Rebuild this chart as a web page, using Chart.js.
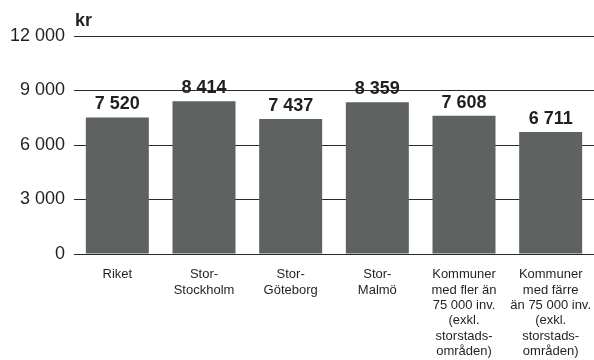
<!DOCTYPE html>
<html>
<head>
<meta charset="utf-8">
<script src="https://cdn.jsdelivr.net/npm/chart.js@4/dist/chart.umd.min.js"></script>
<style>
  html, body { margin: 0; padding: 0; background: #ffffff; }
  #wrap { width: 594px; height: 360px; position: relative; }
</style>
</head>
<body>
<div id="wrap"><canvas id="c"></canvas></div>
<script>
const categories = [
  ['Riket'],
  ['Stor-', 'Stockholm'],
  ['Stor-', 'Göteborg'],
  ['Stor-', 'Malmö'],
  ['Kommuner', 'med fler än', '75 000 inv.', '(exkl.', 'storstads-', 'områden)'],
  ['Kommuner', 'med färre', 'än 75 000 inv.', '(exkl.', 'storstads-', 'områden)']
];
const values = [7520, 8414, 7437, 8359, 7608, 6711];
const yTickLabels = ['0', '3 000', '6 000', '9 000', '12 000'];
const unitLabel = 'kr';

const FONT = '"Liberation Sans", Arial, sans-serif';
const TEXT = '#231f20';
const BAR = '#5e6362';

function fmt(v) {
  return String(v).replace(/\B(?=(\d{3})+(?!\d))/g, ' ');
}

const labelPlugin = {
  id: 'valueLabels',
  afterDatasetsDraw(chart) {
    const ctx = chart.ctx;
    const meta = chart.getDatasetMeta(0);
    ctx.save();
    ctx.font = 'bold 18px ' + FONT;
    ctx.fillStyle = TEXT;
    ctx.textAlign = 'center';
    ctx.textBaseline = 'alphabetic';
    meta.data.forEach((bar, i) => {
      ctx.fillText(fmt(chart.data.datasets[0].data[i]), bar.x, bar.y - 8);
    });
    ctx.font = 'bold 18px ' + FONT;
    ctx.textAlign = 'left';
    ctx.fillText(unitLabel, chart.chartArea.left + 1, 26);
    ctx.restore();
  }
};

new Chart(document.getElementById('c'), {
  type: 'bar',
  data: {
    labels: categories,
    datasets: [{
      data: values,
      backgroundColor: BAR,
      borderWidth: 0,
      categoryPercentage: 1.0,
      barPercentage: 0.727
    }]
  },
  options: {
    responsive: true,
    maintainAspectRatio: false,
    animation: false,
    layout: { padding: { top: 36, right: 0, left: 0, bottom: 0 } },
    plugins: {
      legend: { display: false },
      tooltip: { enabled: false },
      title: { display: false }
    },
    scales: {
      x: {
        grid: { display: false, drawTicks: false },
        border: { display: false },
        ticks: {
          color: TEXT,
          font: { family: FONT, size: 13, lineHeight: '15.4px' },
          padding: 13,
          maxRotation: 0,
          autoSkip: false
        },
        afterFit(scale) {
          scale.height = 106;
          scale.paddingLeft = 0;
          scale.paddingRight = 0;
        }
      },
      y: {
        min: 0,
        max: 12000,
        grid: {
          color: '#2a2a2a',
          lineWidth: 1,
          drawTicks: false
        },
        border: { display: false },
        ticks: {
          stepSize: 3000,
          color: TEXT,
          font: { family: FONT, size: 18 },
          padding: 9,
          callback: (v, i) => yTickLabels[i]
        },
        afterFit(scale) {
          scale.width = 74;
          scale.paddingTop = 0;
          scale.paddingBottom = 0;
        }
      }
    }
  },
  plugins: [labelPlugin]
});
</script>
</body>
</html>
